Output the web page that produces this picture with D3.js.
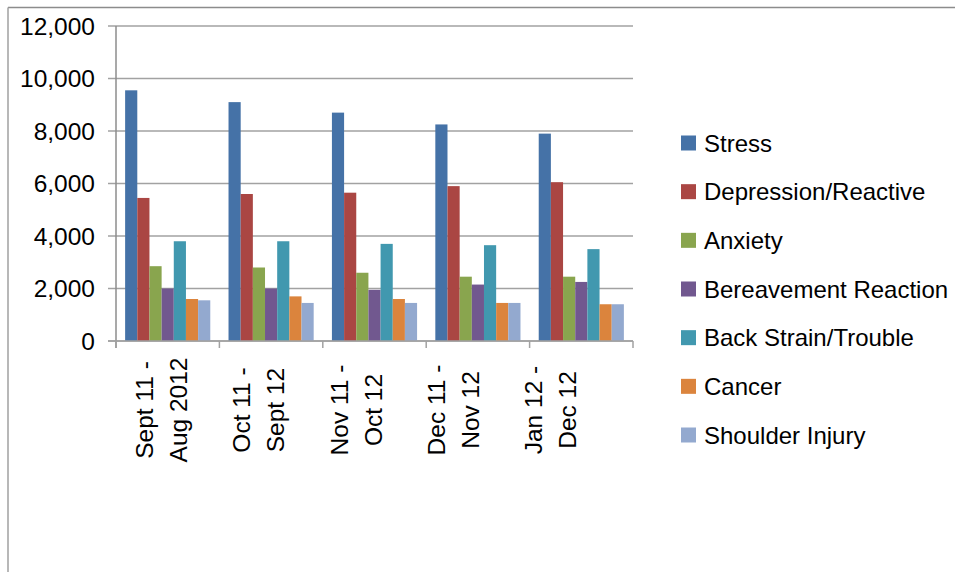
<!DOCTYPE html>
<html><head><meta charset="utf-8">
<script src="https://cdn.jsdelivr.net/npm/d3@7"></script>
<style>
html,body{margin:0;padding:0;background:#fff;}
svg{display:block;font-family:"Liberation Sans",Arial,sans-serif;}
</style></head>
<body><svg id="c" width="955" height="572"></svg>
<script>
const categories = ["Sept 11 - Aug 2012","Oct 11 - Sept 12","Nov 11 - Oct 12","Dec 11 - Nov 12","Jan 12 - Dec 12"];
const categoryLines = [["Sept 11 -","Aug 2012"],["Oct 11 -","Sept 12"],["Nov 11 -","Oct 12"],["Dec 11 -","Nov 12"],["Jan 12 -","Dec 12"]];
const seriesNames = ["Stress","Depression/Reactive","Anxiety","Bereavement Reaction","Back Strain/Trouble","Cancer","Shoulder Injury"];
const stress      = [9550, 9100, 8700, 8250, 7900];
const depression  = [5450, 5600, 5650, 5900, 6050];
const anxiety     = [2850, 2800, 2600, 2450, 2450];
const bereavement = [2000, 2000, 1950, 2150, 2250];
const backStrain  = [3800, 3800, 3700, 3650, 3500];
const cancer      = [1600, 1700, 1600, 1450, 1400];
const shoulder    = [1550, 1450, 1450, 1450, 1400];
const yTicks = [0, 2000, 4000, 6000, 8000, 10000, 12000];
const colors = ["#4572A7","#AA4643","#89A54E","#71588F","#4198AF","#DB843D","#93A9CF"];

const seriesValues = [stress, depression, anxiety, bereavement, backStrain, cancer, shoulder];

const svg = d3.select("#c");
const plot = {left:116, right:633, top:26, bottom:341};

// outer frame (top and left visible)
svg.append("line").attr("x1",8).attr("x2",955).attr("y1",7.5).attr("y2",7.5).attr("stroke","#8c8c8c").attr("stroke-width",1.5);
svg.append("line").attr("x1",8).attr("x2",8).attr("y1",7.5).attr("y2",572).attr("stroke","#a0a0a0").attr("stroke-width",1.5);

const y = d3.scaleLinear().domain([0,12000]).range([plot.bottom, plot.top]);
const x0 = d3.scaleBand().domain(categories).range([plot.left, plot.right]).paddingInner(0).paddingOuter(0);
const gap = x0.bandwidth() * 1.5 / 8.5 / 2;
const x1 = d3.scaleBand().domain(seriesNames).range([gap, x0.bandwidth() - gap]);

// gridlines
svg.append("g").selectAll("line").data(yTicks).join("line")
  .attr("x1", plot.left - 8).attr("x2", plot.right)
  .attr("y1", d => y(d)).attr("y2", d => y(d))
  .attr("stroke", "#a2a2a2").attr("stroke-width", 1.6);

// y labels
const fmt = d3.format(",");
svg.append("g").selectAll("text").data(yTicks).join("text")
  .attr("x", 95).attr("y", d => y(d)).attr("dy","0.36em")
  .attr("text-anchor","end").attr("font-size", 24.5).attr("fill","#000")
  .text(d => fmt(d));

// bars
const groups = svg.append("g").selectAll("g").data(categories).join("g")
  .attr("transform", d => `translate(${x0(d)},0)`);
groups.selectAll("rect").data((c, i) => seriesNames.map((s, j) => ({s, j, v: seriesValues[j][i]}))).join("rect")
  .attr("x", d => x1(d.s)).attr("width", x1.bandwidth())
  .attr("y", d => y(d.v)).attr("height", d => y(0) - y(d.v))
  .attr("fill", d => colors[d.j]);

// axes lines
svg.append("line").attr("x1", plot.left).attr("x2", plot.left).attr("y1", plot.top).attr("y2", plot.bottom + 7)
  .attr("stroke","#8c8c8c").attr("stroke-width",1.5);
svg.append("line").attr("x1", plot.left - 8).attr("x2", plot.right).attr("y1", y(0)).attr("y2", y(0))
  .attr("stroke","#a2a2a2").attr("stroke-width",1.6);
const catTicks = categories.map(c => x0(c)).concat([plot.right]);
svg.append("g").selectAll("line").data(catTicks).join("line")
  .attr("x1", d => d).attr("x2", d => d).attr("y1", y(0)).attr("y2", y(0) + 7)
  .attr("stroke","#a2a2a2").attr("stroke-width",1.5);

// category labels (rotated, two lines)
const labelX = d3.scalePoint().domain(categories).range([153, 542]);
const lab = svg.append("g").selectAll("text").data(categories).join("text")
  .attr("transform", d => `translate(${labelX(d)},410) rotate(-90)`)
  .attr("text-anchor","middle").attr("font-size", 24.5).attr("fill","#000");
lab.each(function(d, i){
  const t = d3.select(this);
  t.append("tspan").attr("x",0).attr("y",0).text(categoryLines[i][0]);
  t.append("tspan").attr("x",0).attr("y",34).text(categoryLines[i][1]);
});

// legend
const legendY = d3.scalePoint().domain(seriesNames).range([143, 435]);
const leg = svg.append("g").selectAll("g").data(seriesNames).join("g")
  .attr("transform", d => `translate(681,${legendY(d)})`);
leg.append("rect").attr("x",0).attr("y",-7.5).attr("width",15).attr("height",15)
  .attr("fill", (d,i) => colors[i]);
leg.append("text").attr("x",23).attr("y",0).attr("dy","0.36em")
  .attr("font-size",24).attr("fill","#000").text(d => d);
</script></body></html>
